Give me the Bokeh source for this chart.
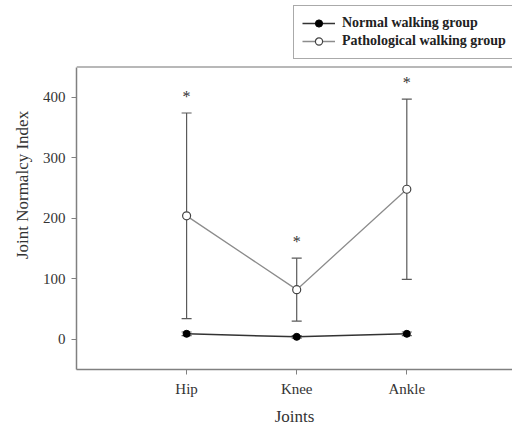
from bokeh.plotting import figure
from bokeh.models import (ColumnDataSource, Whisker, TeeHead, FixedTicker, Legend,
                          LegendItem, Range1d, Span)
from bokeh.core.properties import value
from bokeh.embed import file_html
from bokeh.resources import INLINE

joints = ["Hip", "Knee", "Ankle"]
xpos = [1, 2, 3]
normal_mean = [9, 4, 9]
normal_sd = [3, 2, 3]
patho_mean = [204, 82, 248]
patho_sd = [170, 52, 149]
star_gap = 28
y_ticks = [0, 100, 200, 300, 400]
y_axis_bounds = (-50, 450)

FONT = "Liberation Serif"

p = figure(width=512, height=428, output_backend="svg", toolbar_location=None,
           x_range=Range1d(0, 3.96), y_range=Range1d(-50, 560),
           min_border_left=76, min_border_right=0, min_border_top=0,
           min_border_bottom=59)
p.grid.visible = False
p.outline_line_color = None
p.background_fill_color = "white"
p.border_fill_color = "white"

n_up = [m + s for m, s in zip(normal_mean, normal_sd)]
n_lo = [m - s for m, s in zip(normal_mean, normal_sd)]
p_up = [m + s for m, s in zip(patho_mean, patho_sd)]
p_lo = [m - s for m, s in zip(patho_mean, patho_sd)]
stars = [u + star_gap for u in p_up]

src_n = ColumnDataSource(dict(x=xpos, y=normal_mean, up=n_up, lo=n_lo))
src_p = ColumnDataSource(dict(x=xpos, y=patho_mean, up=p_up, lo=p_lo, star=stars,
                              s=["*"] * 3))

wcol = "#5a5a5a"
for src in (src_p, src_n):
    w = Whisker(source=src, base="x", upper="up", lower="lo", line_color=wcol,
                line_width=1.2,
                upper_head=TeeHead(size=10, line_color=wcol, line_width=1.2),
                lower_head=TeeHead(size=10, line_color=wcol, line_width=1.2))
    p.add_layout(w)

lp = p.line("x", "y", source=src_p, line_color="#8c8c8c", line_width=1.3)
sp = p.scatter("x", "y", source=src_p, size=8, fill_color="white",
               line_color="#444444", line_width=1.2)
ln = p.line("x", "y", source=src_n, line_color="#333333", line_width=1.5)
sn = p.scatter("x", "y", source=src_n, size=7, fill_color="black",
               line_color="black")

p.text("x", "star", text="s", source=src_p, text_align="center",
       text_baseline="middle", text_font=value(FONT), text_font_size="16px",
       text_color="#333333")

# frame top line
p.add_layout(Span(location=y_axis_bounds[1], dimension="width",
                  line_color="#a0a0a0", line_width=1.5))

# axes styling
for ax in (p.xaxis[0], p.yaxis[0]):
    ax.axis_line_color = "#808080"
    ax.axis_line_width = 1.5
    ax.major_tick_line_color = "#808080"
    ax.major_tick_in = 0
    ax.major_tick_out = 5
    ax.minor_tick_line_color = None
    ax.major_label_text_font = FONT
    ax.major_label_text_font_size = "15px"
    ax.major_label_text_color = "#333333"
    ax.axis_label_text_font = FONT
    ax.axis_label_text_font_size = "17px"
    ax.axis_label_text_font_style = "normal"
    ax.axis_label_text_color = "#333333"

p.xaxis.ticker = FixedTicker(ticks=xpos)
p.xaxis.major_label_overrides = {x: j for x, j in zip(xpos, joints)}
p.xaxis.axis_label = "Joints"
p.xaxis.major_label_standoff = 6
p.xaxis.axis_label_standoff = 7
p.yaxis.ticker = FixedTicker(ticks=y_ticks)
p.yaxis.bounds = y_axis_bounds
p.yaxis.axis_label = "Joint Normalcy Index"
p.yaxis.major_label_standoff = 6
p.yaxis.axis_label_standoff = 8

legend = Legend(items=[LegendItem(label="Normal walking group", renderers=[ln, sn]),
                       LegendItem(label="Pathological walking group", renderers=[lp, sp])],
                location=(217, 310), margin=0, padding=8, spacing=0,
                glyph_width=33, glyph_height=18, label_height=18,
                label_standoff=7, label_width=200,
                label_text_font=FONT, label_text_font_size="14px",
                label_text_font_style="bold", label_text_color="#222222",
                border_line_color="#555555", border_line_width=1.5,
                background_fill_color="white", background_fill_alpha=1.0)
p.add_layout(legend, "center")

open("out.html", "w").write(file_html(p, INLINE))
